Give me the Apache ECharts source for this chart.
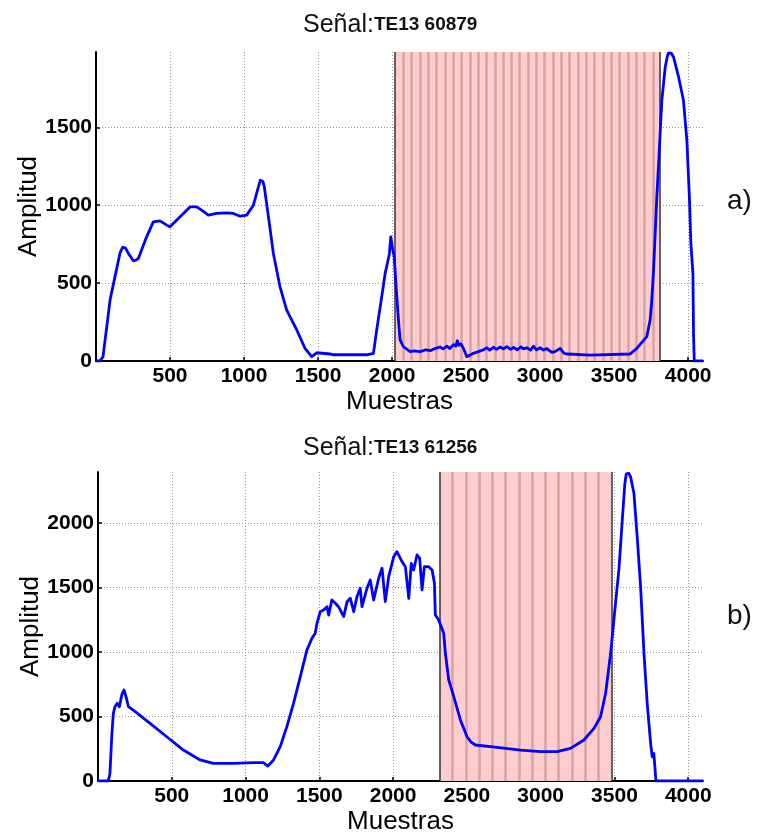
<!DOCTYPE html>
<html>
<head>
<meta charset="utf-8">
<script src="https://cdn.jsdelivr.net/npm/echarts@6/dist/echarts.min.js"></script>
<style>html,body{margin:0;padding:0;background:#fff}#c{width:760px;height:836px}</style>
</head>
<body>
<div id="c"></div>
<script>
// ---- data ----
const titleA = 'TE13 60879';
const titleB = 'TE13 61256';
const xTicks = [500, 1000, 1500, 2000, 2500, 3000, 3500, 4000];
const xMax = 4100;
const yMaxA = 1983;
const yMaxB = 2395;

const signalA = [[0,0],[27,0],[47,26],[70,200],[95,391],[128,540],[162,692],[180,730],[189,737],[200,725],[218,692],[252,643],[270,648],[286,658],[342,797],[387,893],[432,899],[478,872],[500,861],[568,925],[635,989],[680,989],[714,968],[759,936],[815,947],[883,951],[928,947],[973,929],[1018,936],[1063,1000],[1097,1117],[1110,1160],[1119,1167],[1128,1150],[1137,1117],[1165,925],[1198,690],[1243,476],[1288,327],[1356,199],[1412,81],[1457,28],[1491,53],[1581,45],[1604,40],[1829,40],[1874,49],[1896,199],[1930,412],[1953,562],[1968,626],[1982,690],[1991,797],[2005,712],[2014,669],[2027,476],[2043,263],[2054,135],[2076,92],[2122,60],[2150,65],[2189,60],[2200,58],[2230,72],[2257,66],[2290,80],[2324,90],[2345,78],[2370,95],[2390,80],[2414,105],[2430,95],[2441,130],[2450,100],[2465,110],[2482,80],[2505,28],[2549,49],[2617,71],[2640,85],[2660,70],[2684,88],[2705,75],[2730,90],[2752,78],[2775,92],[2800,75],[2820,88],[2845,72],[2870,90],[2887,78],[2910,85],[2935,70],[2955,95],[2975,72],[3000,85],[3022,70],[3045,80],[3079,55],[3100,60],[3135,81],[3160,50],[3180,45],[3338,38],[3608,45],[3653,81],[3720,156],[3743,263],[3754,391],[3766,583],[3777,818],[3788,1050],[3799,1246],[3822,1673],[3845,1887],[3858,1950],[3866,1975],[3874,1983],[3886,1975],[3901,1951],[3935,1823],[3968,1673],[3991,1417],[4009,1032],[4018,754],[4027,750],[4032,562],[4036,177],[4041,0],[4100,0]];

const signalB = [[0,0],[70,0],[81,60],[93,343],[104,525],[115,576],[131,602],[145,576],[161,667],[176,705],[190,654],[206,576],[239,550],[353,447],[466,343],[579,240],[692,163],[782,137],[918,137],[1054,142],[1121,142],[1151,116],[1190,163],[1235,266],[1280,421],[1325,602],[1371,809],[1416,1016],[1450,1106],[1472,1145],[1484,1222],[1506,1312],[1529,1325],[1552,1351],[1563,1286],[1585,1403],[1607,1380],[1630,1351],[1665,1274],[1688,1390],[1710,1416],[1733,1312],[1755,1429],[1777,1494],[1789,1351],[1823,1494],[1845,1558],[1868,1403],[1902,1571],[1925,1649],[1947,1390],[1970,1584],[2004,1739],[2026,1778],[2054,1713],[2083,1661],[2106,1416],[2123,1687],[2139,1636],[2162,1752],[2180,1726],[2196,1481],[2212,1661],[2241,1661],[2264,1636],[2280,1532],[2286,1287],[2309,1248],[2343,1145],[2354,990],[2377,783],[2411,654],[2456,473],[2501,343],[2530,300],[2558,279],[2705,261],[2863,240],[2999,227],[3112,227],[3202,253],[3293,318],[3361,408],[3406,498],[3440,680],[3474,990],[3496,1248],[3530,1636],[3553,2023],[3570,2300],[3580,2380],[3587,2395],[3597,2385],[3609,2359],[3632,2230],[3654,1894],[3677,1506],[3700,990],[3722,602],[3745,292],[3756,188],[3767,214],[3779,214],[3781,0],[4100,0]];

const regionA = [2020, 3811];
const framesA = [2076,2132,2188,2245,2301,2357,2413,2469,2525,2582,2638,2694,2750,2806,2862,2919,2975,3031,3087,3143,3199,3256,3312,3368,3424,3480,3536,3593,3649,3705,3761];
const regionB = [2315, 3480];
const framesB = [2404,2494,2584,2673,2763,2853,2943,3033,3122,3212,3302,3392];

// ---- chart ----
const FF = '"Liberation Sans", Arial, sans-serif';
const chart = echarts.init(document.getElementById('c'), null, {renderer: 'canvas'});

function xAxisCfg(gi) {
  return {
    type: 'value', gridIndex: gi, min: 0, max: xMax, interval: 500,
    name: 'Muestras', nameLocation: 'middle', nameGap: 28, nameMoveOverlap: false,
    nameTextStyle: {fontFamily: FF, fontSize: 26, color: '#000'},
    axisLine: {show: true, onZero: false, lineStyle: {color: '#000', width: 2}},
    axisTick: {show: true, inside: true, length: 4, lineStyle: {color: '#000', width: 1.5}},
    axisLabel: {show: true, showMinLabel: false, showMaxLabel: false, margin: 5, hideOverlap: false,
      fontFamily: FF, fontSize: 21, fontWeight: 'bold', color: '#000',
      formatter: v => (xTicks.indexOf(v) >= 0 ? String(v) : '')},
    splitLine: {show: true, showMinLine: false, showMaxLine: false,
      lineStyle: {color: '#9a9a9a', type: [1, 2], width: 1}}
  };
}
function yAxisCfg(gi, max) {
  return {
    type: 'value', gridIndex: gi, min: 0, max: max, interval: 500,
    name: 'Amplitud', nameLocation: 'middle', nameGap: 54, nameRotate: 90, nameMoveOverlap: false,
    nameTextStyle: {fontFamily: FF, fontSize: 26, color: '#000'},
    axisLine: {show: true, lineStyle: {color: '#000', width: 2}},
    axisTick: {show: true, inside: true, length: 4, lineStyle: {color: '#000', width: 1.5}},
    axisLabel: {show: true, showMaxLabel: false, margin: 4,
      fontFamily: FF, fontSize: 21, fontWeight: 'bold', color: '#000',
      formatter: v => String(v)},
    splitLine: {show: true, showMinLine: false, showMaxLine: false,
      lineStyle: {color: '#9a9a9a', type: [1, 2], width: 1}}
  };
}
function regionSeries(gi, region, frames) {
  const lines = frames.map(x => ({xAxis: x, lineStyle: {color: '#d8a2a2', width: 2.5, type: 'solid'}}));
  lines.push({xAxis: region[0], lineStyle: {color: '#333', width: 1.5, type: 'solid'}});
  lines.push({xAxis: region[1], lineStyle: {color: '#333', width: 1.5, type: 'solid'}});
  return {
    type: 'line', xAxisIndex: gi, yAxisIndex: gi, data: [], z: 2, silent: true,
    markArea: {silent: true, itemStyle: {color: '#fdcccc'}, data: [[{xAxis: region[0]}, {xAxis: region[1]}]]},
    markLine: {silent: true, symbol: 'none', label: {show: false}, animation: false, data: lines}
  };
}
function signalSeries(gi, data) {
  return {
    type: 'line', xAxisIndex: gi, yAxisIndex: gi, data: data, z: 5,
    showSymbol: false, symbol: 'none', clip: true,
    lineStyle: {color: '#0000ff', width: 2.8, join: 'round'}
  };
}
function titleCfg(txt, top) {
  return {
    text: '{a|Señal:}{b|' + txt + '}', left: 298, top: top,
    textStyle: {fontWeight: 'normal', rich: {
      a: {fontFamily: FF, fontSize: 25, fontWeight: 'normal', color: '#111', verticalAlign: 'bottom'},
      b: {fontFamily: FF, fontSize: 19, fontWeight: 'bold', color: '#111', verticalAlign: 'bottom', padding: [0, 0, 4, 0]}
    }}
  };
}

chart.setOption({
  animation: false,
  backgroundColor: '#fff',
  title: [titleCfg(titleA, 8), titleCfg(titleB, 431)],
  grid: [
    {left: 96, right: 57, top: 52, height: 309, outerBoundsMode: 'none', containLabel: false},
    {left: 98, right: 57, top: 472, height: 309, outerBoundsMode: 'none', containLabel: false}
  ],
  xAxis: [xAxisCfg(0), xAxisCfg(1)],
  yAxis: [yAxisCfg(0, yMaxA), yAxisCfg(1, yMaxB)],
  series: [
    regionSeries(0, regionA, framesA),
    signalSeries(0, signalA),
    regionSeries(1, regionB, framesB),
    signalSeries(1, signalB)
  ],
  graphic: [
    {type: 'text', left: 727, top: 187, style: {text: 'a)', font: '28px "Liberation Sans", Arial, sans-serif', fill: '#111'}},
    {type: 'text', left: 727, top: 602, style: {text: 'b)', font: '28px "Liberation Sans", Arial, sans-serif', fill: '#111'}}
  ]
});
</script>
</body>
</html>
